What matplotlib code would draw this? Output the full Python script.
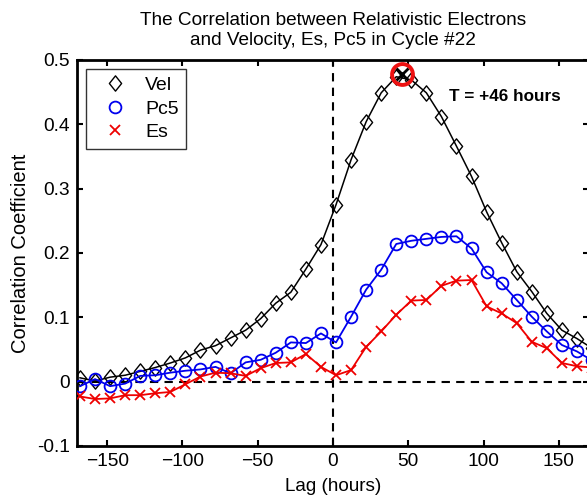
import matplotlib
matplotlib.use("Agg")
import matplotlib.pyplot as plt
from matplotlib.path import Path

plt.rcParams['font.family'] = ['Liberation Sans', 'DejaVu Sans']

# Lags (hours) at which markers are drawn
lags = [-168, -158, -148, -138, -128, -118, -108, -98, -88, -78, -68, -58, -48,
        -38, -28, -18, -8, 2, 12, 22, 32, 42, 52, 62, 72, 82, 92, 102, 112,
        122, 132, 142, 152, 162, 172]

vel = [0.006, 0.001, 0.007, 0.010, 0.016, 0.022, 0.029, 0.037, 0.049, 0.056,
       0.068, 0.080, 0.098, 0.122, 0.139, 0.175, 0.213, 0.275, 0.345, 0.404,
       0.449, 0.474, 0.469, 0.449, 0.412, 0.366, 0.319, 0.264, 0.216, 0.171,
       0.140, 0.106, 0.080, 0.067, 0.052]

pc5 = [-0.007, 0.004, -0.007, -0.003, 0.009, 0.010, 0.014, 0.017, 0.019, 0.023,
       0.013, 0.030, 0.034, 0.045, 0.061, 0.060, 0.075, 0.061, 0.101, 0.143,
       0.174, 0.214, 0.219, 0.222, 0.225, 0.226, 0.207, 0.170, 0.153, 0.127,
       0.101, 0.078, 0.057, 0.047, 0.033]

es = [-0.023, -0.027, -0.026, -0.021, -0.021, -0.018, -0.016, -0.004, 0.008,
      0.014, 0.013, 0.009, 0.021, 0.029, 0.030, 0.043, 0.023, 0.010, 0.018,
      0.054, 0.078, 0.104, 0.126, 0.127, 0.149, 0.157, 0.158, 0.117, 0.106,
      0.091, 0.062, 0.052, 0.029, 0.024, 0.022]

peak_lag = [46]
peak_val = [0.478]

xticks = [-150, -100, -50, 0, 50, 100, 150]
yticks = [-0.1, 0, 0.1, 0.2, 0.3, 0.4, 0.5]
ytick_labels = ['-0.1', '0', '0.1', '0.2', '0.3', '0.4', '0.5']

# slightly tall diamond marker shape (MATLAB-like)
diamond = Path([(0, 1), (0.8, 0), (0, -1), (-0.8, 0), (0, 1)],
               [Path.MOVETO, Path.LINETO, Path.LINETO, Path.LINETO, Path.CLOSEPOLY])

fig = plt.figure(figsize=(5.87, 4.96), dpi=100)
ax = fig.add_axes([77/587, 1 - 446/496, (589 - 77)/587, (446 - 60)/496])

ax.axhline(0, color='black', ls='--', lw=1.5, dashes=(4, 3), zorder=1)
ax.axvline(0, color='black', ls='--', lw=1.5, dashes=(4, 3), zorder=1)

ax.plot(lags, vel, color='black', lw=1.1, marker=diamond, ms=11, mfc='none',
        mec='black', mew=1.0, label='Vel', zorder=3)
ax.plot(lags, pc5, color='#0000ee', lw=1.3, marker='o', ms=8.5, mfc='none',
        mec='#0000ee', mew=1.3, label='Pc5', zorder=3)
ax.plot(lags, es, color='#ee0000', lw=1.3, marker='x', ms=7, mec='#ee0000',
        mew=1.3, label='Es', zorder=3)

ax.plot(peak_lag, peak_val, ls='none', marker='o', ms=15, mfc='none',
        mec='#ee1111', mew=2.8, zorder=5, clip_on=False)
ax.plot(peak_lag, peak_val, ls='none', marker='x', ms=9, mec='black',
        mew=2.0, zorder=6, clip_on=False)

ax.text(77, 0.444, 'T = +46 hours', fontsize=12.3, fontweight='bold',
        ha='left', va='center')

ax.set_xlim(-170, 170)
ax.set_ylim(-0.1, 0.5)
ax.set_xticks(xticks)
ax.set_yticks(yticks)
ax.set_yticklabels(ytick_labels)
ax.tick_params(direction='in', length=4, width=1.5, top=True, right=True,
               labelsize=13.8)
ax.tick_params(axis='x', pad=5)
ax.tick_params(axis='y', pad=5)
for s in ax.spines.values():
    s.set_linewidth(2.0)

ax.set_xlabel('Lag (hours)', fontsize=13.6, labelpad=6)
ax.set_ylabel('Correlation Coefficient', fontsize=14.5, labelpad=5)
ax.set_title('The Correlation between Relativistic Electrons\nand Velocity, Es, Pc5 in Cycle #22',
             fontsize=13.7, pad=11, linespacing=1.2)

leg = ax.legend(loc='upper left', frameon=True, fancybox=False, fontsize=14,
                handlelength=2.2, handletextpad=0.45, borderpad=0.4,
                labelspacing=0.3, borderaxespad=0.45)
for h in leg.legend_handles:
    h.set_linestyle('none')
leg.get_frame().set_edgecolor('black')
leg.get_frame().set_linewidth(1.0)

fig.savefig('out.png', dpi=100)
